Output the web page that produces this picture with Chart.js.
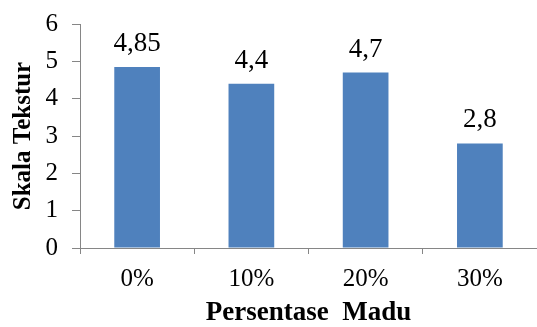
<!DOCTYPE html>
<html>
<head>
<meta charset="utf-8">
<script src="https://cdn.jsdelivr.net/npm/chart.js@4"></script>
<style>
    html, body { margin: 0; padding: 0; background: #fff; }
    #caja { width: 537px; height: 327px; }
</style>
</head>
<body>
<div id="caja"><canvas id="grafica" width="537" height="327"></canvas></div>
<script>
//--------------------//
//--|datos_grafica|--//
//--------------------//
const kategori = ["0%", "10%", "20%", "30%"];
const skalaTekstur = [4.85, 4.4, 4.7, 2.8];
const ticksY = [0, 1, 2, 3, 4, 5, 6];

const fuente = "'Times New Roman', 'Liberation Serif', serif";
const gris = "#868686";

//---------------------------//
//--|etiquetas_sobre_barra|--//
//---------------------------//
const etiquetasBarra = {
    id: "etiquetasBarra",
    afterDatasetsDraw(chart) {
        const ctx = chart.ctx;
        const meta = chart.getDatasetMeta(0);
        ctx.save();
        ctx.font = "27px " + fuente;
        ctx.fillStyle = "#000";
        ctx.textAlign = "center";
        ctx.textBaseline = "alphabetic";
        meta.data.forEach((bar, i) => {
            const texto = String(skalaTekstur[i]).replace(".", ",");
            ctx.fillText(texto, bar.x, bar.y - 16);
        });
        ctx.restore();
    }
};

//---------------------//
//--|grafica_barras|--//
//---------------------//
const ctx = document.getElementById("grafica").getContext("2d");
new Chart(ctx, {
    type: "bar",
    data: {
        labels: kategori,
        datasets: [{
            data: skalaTekstur,
            backgroundColor: "#4F81BD",
            barPercentage: 0.4,
            categoryPercentage: 1
        }]
    },
    options: {
        responsive: false,
        animation: false,
        layout: { padding: { top: 24, right: 0, left: 0, bottom: 0 } },
        plugins: {
            legend: { display: false },
            tooltip: { enabled: false }
        },
        scales: {
            x: {
                afterFit: (scale) => { scale.height = 79; },
                grid: {
                    drawOnChartArea: false,
                    drawTicks: true,
                    tickLength: 6,
                    color: gris
                },
                border: { color: gris, width: 1 },
                ticks: {
                    color: "#000",
                    padding: 10,
                    font: { family: fuente, size: 25 }
                },
                title: {
                    display: true,
                    text: "Persentase  Madu",
                    color: "#000",
                    padding: { top: 0, bottom: 0 },
                    font: { family: fuente, size: 27, weight: "bold", lineHeight: 1 }
                }
            },
            y: {
                min: 0,
                max: 6,
                afterFit: (scale) => {
                    scale.width = 80;
                    // sin relleno extra arriba/abajo por las etiquetas
                    scale.paddingTop = 0;
                    scale.paddingBottom = 0;
                },
                afterBuildTicks: (scale) => {
                    scale.ticks = ticksY.map(v => ({ value: v }));
                },
                grid: {
                    drawOnChartArea: false,
                    drawTicks: true,
                    tickLength: 8,
                    color: gris
                },
                border: { color: gris, width: 1 },
                ticks: {
                    color: "#000",
                    padding: 14,
                    font: { family: fuente, size: 25 }
                },
                title: {
                    display: true,
                    text: "Skala Tekstur",
                    color: "#000",
                    padding: { top: 9, bottom: 0 },
                    font: { family: fuente, size: 25, weight: "bold", lineHeight: 1.2 }
                }
            }
        }
    },
    plugins: [etiquetasBarra]
});
</script>
</body>
</html>
